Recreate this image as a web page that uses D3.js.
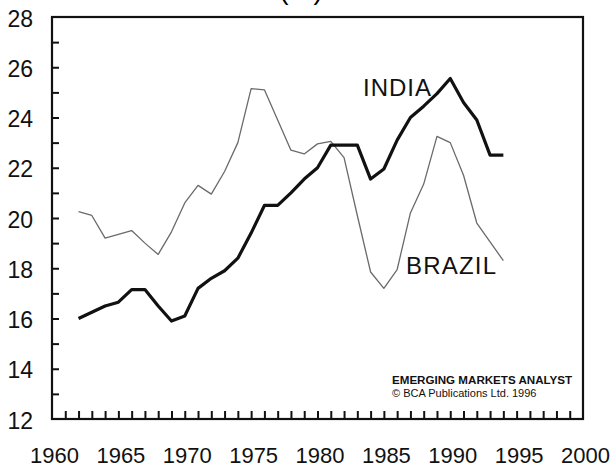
<!DOCTYPE html>
<html>
<head>
<meta charset="utf-8">
<script src="https://cdn.jsdelivr.net/npm/d3@7"></script>
<style>
  html, body { margin: 0; padding: 0; background: #fff; }
  svg { display: block; font-family: "Liberation Sans", Arial, sans-serif; }
</style>
</head>
<body>
<svg id="chart" width="610" height="468"></svg>
<script>
// data
const years = [1962, 1963, 1964, 1965, 1966, 1967, 1968, 1969, 1970, 1971, 1972, 1973,
    1974, 1975, 1976, 1977, 1978, 1979, 1980, 1981, 1982, 1983, 1984, 1985, 1986, 1987,
    1988, 1989, 1990, 1991, 1992, 1993, 1994];

const india = [16.0, 16.25, 16.5, 16.65, 17.15, 17.15, 16.5, 15.9, 16.1, 17.2, 17.6, 17.9,
    18.4, 19.4, 20.5, 20.5, 21.0, 21.55, 22.0, 22.9, 22.9, 22.9, 21.55, 21.95, 23.1, 24.0,
    24.45, 24.95, 25.55, 24.6, 23.9, 22.5, 22.5];

const brazil = [20.25, 20.1, 19.2, 19.35, 19.5, 19.0, 18.55, 19.45, 20.6, 21.3, 20.95, 21.85,
    23.0, 25.15, 25.1, 23.9, 22.7, 22.55, 22.95, 23.05, 22.4, 20.1, 17.85, 17.2, 17.95, 20.2,
    21.35, 23.25, 23.0, 21.7, 19.8, 19.05, 18.3];

const yLabels = [12, 14, 16, 18, 20, 22, 24, 26, 28];
const xLabels = [1960, 1965, 1970, 1975, 1980, 1985, 1990, 1995, 2000];

const svg = d3.select("#chart");

const plotLeft = 52, plotRight = 583, plotTop = 17, plotBottom = 419;

const x = d3.scaleLinear().domain([1960, 2000]).range([plotLeft, plotRight]);
const y = d3.scaleLinear().domain([12, 28]).range([plotBottom, plotTop]);

// title is cut off by the top edge, only the bottom of the brackets shows
svg.append("text")
    .attr("x", 301)
    .attr("y", -1)
    .attr("text-anchor", "middle")
    .attr("font-size", 28)
    .text("(%)");

// minor ticks, pointing inward
svg.append("g")
    .attr("transform", "translate(" + plotLeft + ",0)")
    .call(d3.axisLeft(y).tickValues(d3.range(13, 28)).tickSize(-7).tickFormat(""))
    .call(function (g) { g.select(".domain").remove(); })
    .selectAll("line")
    .attr("stroke", "#111")
    .attr("stroke-width", 2);

svg.append("g")
    .attr("transform", "translate(0," + plotBottom + ")")
    .call(d3.axisBottom(x).tickValues(d3.range(1961, 2000)).tickSize(-8).tickFormat(""))
    .call(function (g) { g.select(".domain").remove(); })
    .selectAll("line")
    .attr("stroke", "#111")
    .attr("stroke-width", 2);

// tick labels
const yAxis = svg.append("g")
    .attr("transform", "translate(" + plotLeft + ",0)")
    .call(d3.axisLeft(y).tickValues(yLabels).tickSize(0).tickPadding(19));
yAxis.select(".domain").remove();
yAxis.selectAll("text")
    .attr("font-size", 23)
    .attr("font-family", "Liberation Sans, Arial, sans-serif")
    .attr("fill", "#111")
    .attr("dy", "0.4em");

const xAxis = svg.append("g")
    .attr("transform", "translate(0," + plotBottom + ")")
    .call(d3.axisBottom(x).tickValues(xLabels).tickSize(0).tickPadding(28).tickFormat(d3.format("d")));
xAxis.select(".domain").remove();
xAxis.selectAll("text")
    .attr("font-size", 22)
    .attr("font-family", "Liberation Sans, Arial, sans-serif")
    .attr("fill", "#111")
    .attr("dx", 2);

// frame
svg.append("rect")
    .attr("x", plotLeft)
    .attr("y", plotTop)
    .attr("width", plotRight - plotLeft)
    .attr("height", plotBottom - plotTop)
    .attr("fill", "none")
    .attr("stroke", "#111")
    .attr("stroke-width", 2.2);

const line = d3.line()
    .x(function (d, i) { return x(years[i]); })
    .y(function (d) { return y(d); });

svg.append("path")
    .datum(brazil)
    .attr("fill", "none")
    .attr("stroke", "#6a6a6a")
    .attr("stroke-width", 1.3)
    .attr("stroke-linejoin", "round")
    .attr("d", line);

svg.append("path")
    .datum(india)
    .attr("fill", "none")
    .attr("stroke", "#111")
    .attr("stroke-width", 3.2)
    .attr("stroke-linejoin", "round")
    .attr("d", line);

// series labels
svg.append("text")
    .attr("x", 363)
    .attr("y", 96)
    .attr("font-size", 24)
    .attr("letter-spacing", 1)
    .attr("fill", "#111")
    .text("INDIA");

svg.append("text")
    .attr("x", 406)
    .attr("y", 274)
    .attr("font-size", 24)
    .attr("letter-spacing", 1.2)
    .attr("fill", "#111")
    .text("BRAZIL");

// source note
svg.append("text")
    .attr("x", 392)
    .attr("y", 384)
    .attr("font-size", 11.6)
    .attr("font-weight", "bold")
    .attr("fill", "#111")
    .text("EMERGING MARKETS ANALYST");

svg.append("text")
    .attr("x", 392)
    .attr("y", 397)
    .attr("font-size", 11)
    .attr("fill", "#111")
    .text("© BCA Publications Ltd. 1996");
</script>
</body>
</html>
